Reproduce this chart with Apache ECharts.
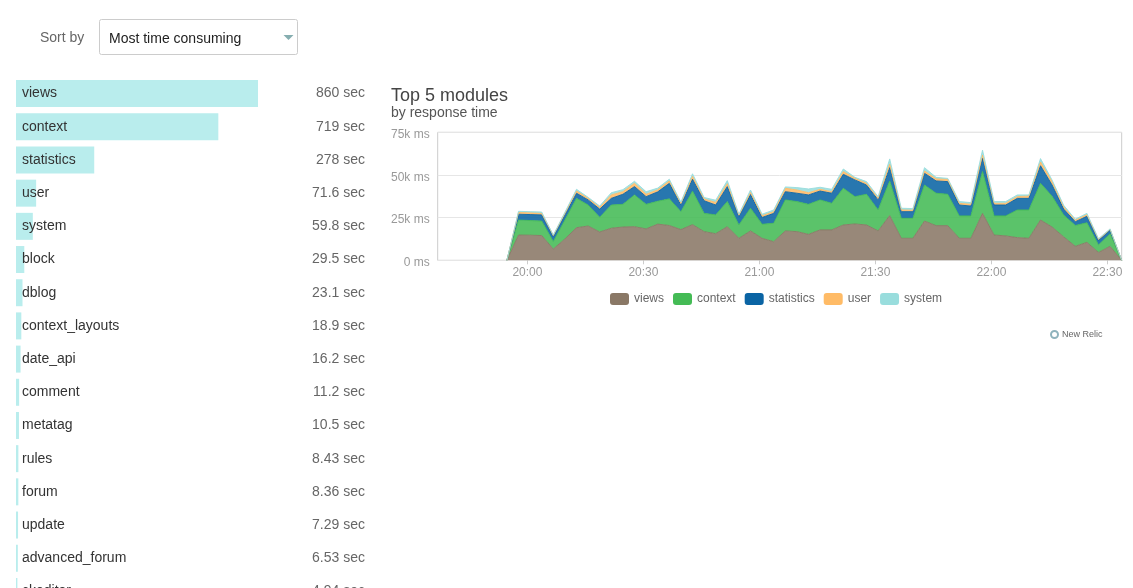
<!DOCTYPE html>
<html>
<head>
<meta charset="utf-8">
<script src="https://cdn.jsdelivr.net/npm/echarts@6/dist/echarts.min.js"></script>
<style>
  html, body { margin: 0; padding: 0; background: #fff; }
  #chart { width: 1133px; height: 588px; }
</style>
</head>
<body>
<div id="chart"></div>
<script>
// ---- Left list: modules by total time ----
const moduleNames = ['views','context','statistics','user','system','block','dblog','context_layouts','date_api','comment','metatag','rules','forum','update','advanced_forum','ckeditor'];
const moduleSeconds = [860, 719, 278, 71.6, 59.8, 29.5, 23.1, 18.9, 16.2, 11.2, 10.5, 8.43, 8.36, 7.29, 6.53, 4.94];

// ---- Top 5 modules response time (k ms), sampled every 3 minutes ----
const firstSampleTime = '19:54:42';
const sampleStepMinutes = 3;
const axisStartTime = '19:36:48';
const axisEndTime = '22:33:42';
const yTickLabels = ['0 ms', '25k ms', '50k ms', '75k ms'];

const seriesNames = ['views', 'context', 'statistics', 'user', 'system'];
const seriesColors = ['#8a7866', '#44bb55', '#0a64a4', '#ffbb66', '#99dddd'];

const views = [0,14.8,14.7,14.5,6.6,12.5,19.1,20.1,16.6,18.8,19.5,19.7,18.4,21.2,20.4,18.0,20.9,16.8,15.6,19.7,12.9,17.2,12.9,10.9,17.2,16.8,15.2,17.8,17.8,20.7,21.3,20.7,17.2,26.2,12.9,12.9,23.0,20.3,20.3,12.9,12.9,27.5,14.8,14.3,13.3,12.9,23.6,19.5,13.7,8.2,10.5,4.6,8.2,0];
const context = [0,8.8,8.6,8.5,4.4,11.1,17.2,12.3,8.6,13.6,13.3,18.6,14.4,13.4,15.6,10.5,19.6,10.7,11.0,14.7,7.8,13.3,8.2,10.8,18.2,17.6,17.6,17.6,15.6,21.5,16.0,18.0,12.3,20.3,11.7,11.7,21.1,19.0,18.4,13.1,13.1,24.5,11.2,11.7,16.2,16.6,21.5,18.0,12.8,12.2,11.5,4.4,7.3,0];
const statistics = [0,3.4,3.5,3.6,2.9,3.0,3.0,3.0,4.8,3.9,5.9,4.9,4.5,5.5,9.1,3.8,7.0,7.4,5.8,8.8,4.9,8.0,4.0,5.8,4.8,4.9,5.5,5.2,5.9,8.2,9.8,5.4,5.9,7.8,3.9,3.9,6.9,7.2,7.4,6.4,5.8,7.8,6.4,6.4,6.8,6.8,10.3,6.6,3.5,2.2,3.8,2.7,2.2,0];
const user = [0,1.0,1.0,0.9,0.6,0.9,1.3,0.9,1.0,2.0,1.5,1.9,1.4,1.2,1.4,1.1,1.7,1.0,1.5,1.7,0.8,1.2,1.0,1.0,2.0,1.9,1.3,1.0,0.9,1.6,0.9,1.0,0.9,2.0,1.0,0.8,1.3,1.2,1.4,1.0,1.0,1.9,1.0,1.0,1.0,1.4,2.2,2.0,1.2,0.9,0.9,0.5,0.4,0];
const system = [0,0.7,0.7,0.8,0.3,0.6,1.0,0.6,0.8,1.3,1.2,1.2,1.5,1.0,1.0,0.7,1.5,0.9,1.3,1.8,0.6,1.5,0.9,1.0,0.8,1.4,2.2,1.2,1.4,1.5,0.6,1.0,1.0,3.1,1.0,1.0,2.0,0.9,0.5,1.0,1.0,2.9,1.0,1.0,1.0,0.6,2.0,0.9,1.0,0.6,0.8,0.5,0.3,0];

const seriesValues = [views, context, statistics, user, system];

const FONT = '"Liberation Sans", Arial, Helvetica, sans-serif';

function toMs(hms) {
  const p = hms.split(':').map(Number);
  return new Date(2015, 0, 1, p[0], p[1], p[2] || 0).getTime();
}
const t0 = toMs(firstSampleTime);
const stepMs = sampleStepMinutes * 60000;

const chart = echarts.init(document.getElementById('chart'), null, { renderer: 'canvas' });

const areaSeries = seriesNames.map((name, s) => ({
  name: name,
  type: 'line',
  xAxisIndex: 1,
  yAxisIndex: 2,
  stack: 'total',
  symbol: 'none',
  smooth: false,
  color: seriesColors[s],
  lineStyle: { width: 1, color: seriesColors[s], opacity: 0.9 },
  areaStyle: { color: seriesColors[s], opacity: 0.88 },
  emphasis: { disabled: true },
  data: seriesValues[s].map((v, i) => [t0 + i * stepMs, v * 1000])
}));

const option = {
  animation: false,
  textStyle: { fontFamily: FONT },
  title: {
    text: 'Top 5 modules',
    subtext: 'by response time',
    left: 391,
    top: 87,
    padding: 0,
    itemGap: 1,
    textStyle: { fontFamily: FONT, fontSize: 18, fontWeight: 'normal', color: '#444' },
    subtextStyle: { fontFamily: FONT, fontSize: 14, color: '#555' }
  },
  legend: {
    data: seriesNames,
    left: 610,
    top: 293,
    padding: 0,
    itemWidth: 19,
    itemHeight: 12,
    itemGap: 9,
    icon: 'roundRect',
    selectedMode: false,
    textStyle: { fontFamily: FONT, fontSize: 12, color: '#666' }
  },
  grid: [
    { left: 16, top: 77, width: 242, height: 531, outerBoundsMode: 'none', containLabel: false },
    { left: 437.7, top: 132.3, width: 684, height: 128, outerBoundsMode: 'none', containLabel: false, show: true, borderColor: '#cccccc', borderWidth: 1, backgroundColor: 'transparent' }
  ],
  xAxis: [
    { gridIndex: 0, type: 'value', min: 0, max: 860, show: false },
    {
      gridIndex: 1, type: 'time',
      min: toMs(axisStartTime), max: toMs(axisEndTime),
      splitNumber: 5,
      axisLine: { show: false },
      splitLine: { show: false },
      minorTick: { show: false },
      axisTick: { show: true, length: 4, lineStyle: { color: '#cccccc' } },
      axisLabel: {
        margin: 6,
        color: '#999',
        fontSize: 12,
        fontWeight: 'normal',
        fontFamily: FONT,
        showMinLabel: false,
        showMaxLabel: false,
        formatter: '{HH}:{mm}'
      }
    }
  ],
  yAxis: [
    {
      gridIndex: 0, type: 'category', inverse: true, data: moduleNames, z: 10,
      axisLine: { show: false }, axisTick: { show: false }, splitLine: { show: false },
      axisLabel: { inside: true, margin: 6, interval: 0, color: '#333', fontSize: 14, fontFamily: FONT, align: 'left' }
    },
    {
      gridIndex: 0, type: 'category', inverse: true, position: 'right', data: moduleNames, z: 10,
      axisLine: { show: false }, axisTick: { show: false }, splitLine: { show: false },
      axisLabel: {
        margin: 107, interval: 0, align: 'right', color: '#666', fontSize: 14, fontFamily: FONT,
        formatter: (v, idx) => moduleSeconds[idx] + ' sec'
      }
    },
    {
      gridIndex: 1, type: 'value', min: 0, max: 75000, interval: 25000,
      axisLine: { show: false }, axisTick: { show: false },
      splitLine: { show: true, lineStyle: { color: '#e6e6e6', width: 1 } },
      axisLabel: {
        margin: 8, color: '#999', fontSize: 12, fontFamily: FONT,
        formatter: (v) => '{t|' + yTickLabels[Math.round(v / 25000)] + '}',
        rich: { t: { color: '#999', fontSize: 12, fontFamily: FONT, padding: [5, 0, 0, 0] } }
      }
    }
  ],
  series: [
    {
      name: 'modules',
      type: 'bar',
      xAxisIndex: 0,
      yAxisIndex: 0,
      barWidth: 27,
      z: 1,
      itemStyle: { color: '#b9eded' },
      emphasis: { disabled: true },
      data: moduleSeconds
    }
  ].concat(areaSeries),
  graphic: [
    { type: 'text', left: 40, top: 31, style: { text: 'Sort by', font: '14px ' + FONT, fill: '#666' } },
    { type: 'rect', shape: { x: 99.5, y: 19.5, width: 198, height: 35, r: 2 }, style: { fill: '#fff', stroke: '#cccccc', lineWidth: 1 } },
    { type: 'text', left: 109, top: 32, style: { text: 'Most time consuming', font: '14px ' + FONT, fill: '#222' } },
    { type: 'polygon', shape: { points: [[283.5, 35], [293.5, 35], [288.5, 40]] }, style: { fill: '#86aeb0' } },
    { type: 'circle', shape: { cx: 1054.5, cy: 334.5, r: 3.5 }, style: { fill: 'none', stroke: '#8fb3bd', lineWidth: 2 } },
    { type: 'text', left: 1062, top: 330, style: { text: 'New Relic', font: '9px ' + FONT, fill: '#666' } }
  ]
};

chart.setOption(option);
</script>
</body>
</html>
